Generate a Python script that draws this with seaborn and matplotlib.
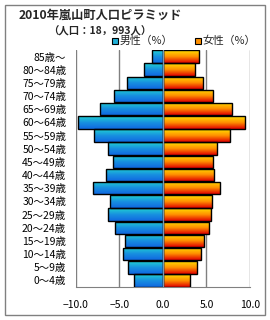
import numpy as np
import pandas as pd
import seaborn as sns
import matplotlib.pyplot as plt
from matplotlib.colors import LinearSegmentedColormap
from matplotlib.patches import Rectangle

# age groups, top to bottom
ages = ['85歳～', '80～84歳', '75～79歳', '70～74歳', '65～69歳', '60～64歳',
        '55～59歳', '50～54歳', '45～49歳', '40～44歳', '35～39歳', '30～34歳',
        '25～29歳', '20～24歳', '15～19歳', '10～14歳', '5～9歳', '0～4歳']
male = [1.3, 2.2, 4.1, 5.6, 7.2, 9.7, 7.9, 6.3, 5.7, 6.5, 8.0, 6.1,
        6.3, 5.5, 4.4, 4.6, 4.0, 3.3]
female = [4.1, 3.7, 4.6, 5.7, 7.9, 9.4, 7.7, 6.2, 5.7, 5.9, 6.5, 5.6,
          5.5, 5.3, 4.7, 4.4, 3.9, 3.1]
xticks = [-10, -5, 0, 5, 10]

sns.set_style('white')
plt.rcParams['font.family'] = ['Noto Sans CJK JP', 'DejaVu Sans']

df = pd.DataFrame({'age': ages, 'male': [-v for v in male], 'female': female})

fig = plt.figure(figsize=(2.7, 3.2), dpi=100)
ax = fig.add_axes([0.281, 0.103, 0.645, 0.741])

sns.barplot(data=df, y='age', x='male', orient='h', ax=ax, color='#1aa0dc',
            width=0.95, edgecolor='black', linewidth=1.0, zorder=3)
sns.barplot(data=df, y='age', x='female', orient='h', ax=ax, color='#ff8000',
            width=0.95, edgecolor='black', linewidth=1.0, zorder=3)

blue = LinearSegmentedColormap.from_list('b', ['#20d2d2', '#1890e0', '#1068e0'])
warm = LinearSegmentedColormap.from_list('w', ['#ffe000', '#ff9000', '#e00000'])
grad = np.linspace(0, 1, 64).reshape(-1, 1)
n = len(ages)
for i, p in enumerate(ax.patches):
    cmap = blue if i < n else warm
    x0, y0 = p.get_x(), p.get_y()
    w, h = p.get_width(), p.get_height()
    im = ax.imshow(grad, cmap=cmap, aspect='auto', zorder=3.5,
                   extent=[x0, x0 + w, y0 + h, y0], origin='upper')
    im.set_clip_path(p)
    p.set_facecolor('none')
    p.set_zorder(4)

ax.set_xlim(-10, 10)
ax.set_ylim(n - 0.5, -0.5)
ax.set_xticks(xticks)
ax.set_xticklabels(['−10.0', '−5.0', '0.0', '5.0', '10.0'])
for x in [-10, -5, 5, 10]:
    ax.axvline(x, color='#808080', lw=1.0, zorder=1)
ax.axvline(0, color='#7a98b0', lw=1.0, zorder=5)
ax.set_xlabel('')
ax.set_ylabel('')
for s in ['top', 'left', 'right']:
    ax.spines[s].set_visible(False)
ax.spines['bottom'].set_color('#808080')
ax.tick_params(axis='both', length=0, colors='black')
ax.tick_params(axis='y', pad=7, labelsize=7.5)
ax.tick_params(axis='x', pad=9, labelsize=7.5)

fig.text(0.37, 0.953, '2010年嵐山町人口ピラミッド', ha='center', va='center',
         fontsize=8.8, fontweight='bold')
fig.text(0.37, 0.903, '（人口：18，993人）', ha='center', va='center',
         fontsize=7.5, fontweight='bold')

# legend
for x0, c1, label in [(0.415, '#20b0d8', '男性（%）'),
                      (0.722, '#ff9000', '女性（%）')]:
    fig.patches.append(Rectangle((x0, 0.863), 0.022, 0.019, transform=fig.transFigure,
                                 facecolor=c1, edgecolor='black', lw=0.8))
    fig.text(x0 + 0.028, 0.872, label, ha='left', va='center', fontsize=7.8)

fig.patches.append(Rectangle((0.02, 0.015), 0.96, 0.968, transform=fig.transFigure,
                             facecolor='none', edgecolor='#808080', lw=1.0))

fig.savefig('out.png', dpi=100)
